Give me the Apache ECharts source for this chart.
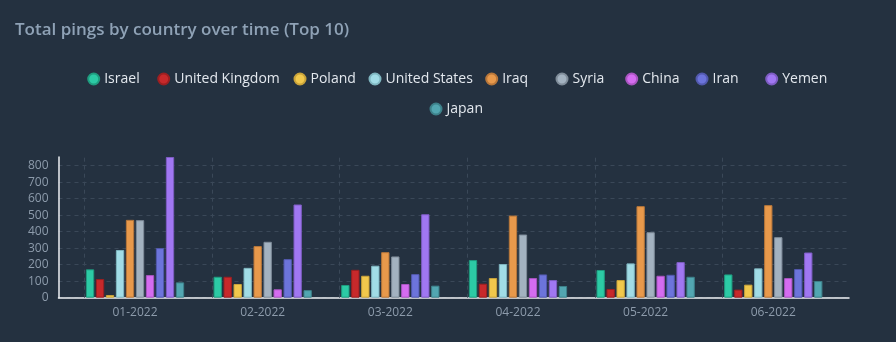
<!DOCTYPE html>
<html>
<head>
<meta charset="utf-8">
<script src="https://cdn.jsdelivr.net/npm/echarts@6/dist/echarts.min.js"></script>
<style>
html,body{margin:0;padding:0;background:#243140;}
#chart{width:896px;height:342px;}
</style>
</head>
<body>
<div id="chart"></div>
<script>
const categories = ['01-2022','02-2022','03-2022','04-2022','05-2022','06-2022'];
const countries = ['Israel','United Kingdom','Poland','United States','Iraq','Syria','China','Iran','Yemen','Japan'];
const israel        = [172, 127, 77, 228, 168, 141];
const unitedKingdom = [113, 127, 169, 85, 53, 49];
const poland        = [16, 83, 133, 119, 107, 79];
const unitedStates  = [289, 181, 194, 204, 208, 178];
const iraq          = [472, 313, 276, 498, 555, 561];
const syria         = [470, 339, 250, 383, 397, 367];
const china         = [137, 51, 83, 119, 133, 119];
const iran          = [301, 234, 143, 141, 139, 174];
const yemen         = [853, 565, 506, 107, 216, 274];
const japan         = [93, 46, 73, 71, 127, 101];
const seriesValues = [israel, unitedKingdom, poland, unitedStates, iraq, syria, china, iran, yemen, japan];

const colors  = ['#2ccaa5','#c7292b','#f1c84c','#a1dce6','#e8994b','#a3b2c0','#d46cf0','#6c74db','#a077f2','#52a6b1'];
const borders = ['#1f9c7f','#9b1f21','#c9a33a','#7fb6c0','#b8773a','#7f8c99','#a955c0','#5259ae','#7d5cc2','#3d818a'];
// legend item placement (left edge of marker, top of row)
const legendLefts = [87.2, 157.2, 293.5, 368.5, 485.2, 555.5, 625.2, 695.5, 765.2, 429.5];
const legendTops  = [72, 72, 72, 72, 72, 72, 72, 72, 72, 102];

const maxVal = Math.max(...seriesValues.flat());
const gridTop = 157, gridBottom = 44.3;
const splitColor = '#3a4858';

const chart = echarts.init(document.getElementById('chart'), null, {renderer: 'canvas'});

const barSeries = countries.map((name, i) => ({
  name: name,
  type: 'bar',
  xAxisIndex: 1,
  yAxisIndex: 1,
  data: seriesValues[i],
  barGap: '20%',
  barCategoryGap: '23%',
  itemStyle: {color: colors[i], borderColor: borders[i], borderWidth: 1},
  emphasis: {disabled: true}
}));

const splitColors = [];
for (let v = 0; v <= maxVal; v += 100) splitColors.push(splitColor);
splitColors.push('rgba(0,0,0,0)');

const legendText = {color: '#e3e8ee', fontSize: 14, fontFamily: 'Open Sans'};

const option = {
  backgroundColor: '#243140',
  animation: false,
  color: colors,
  title: {
    text: 'Total pings by country over time (Top 10)',
    left: 10,
    top: 17,
    textStyle: {color: '#8fa2b6', fontSize: 17, fontWeight: 600, fontFamily: 'Open Sans'}
  },
  legend: countries.map((n, i) => ({
    left: legendLefts[i],
    top: legendTops[i],
    padding: 0,
    icon: 'circle',
    itemWidth: 11,
    itemHeight: 11,
    itemGap: 10,
    textStyle: legendText,
    data: [n]
  })),
  grid: [
    {left: 58.5, right: 47, top: gridTop, bottom: gridBottom},
    {left: 71.2, right: 58.9, top: gridTop, bottom: gridBottom}
  ],
  xAxis: [
    {
      type: 'value',
      gridIndex: 0,
      min: -0.6016,
      max: 5.591,
      axisLine: {show: true, onZero: false, lineStyle: {color: '#eef1f4', width: 1.5}},
      axisTick: {show: false},
      axisLabel: {show: false},
      splitLine: {show: false}
    },
    {
      type: 'category',
      gridIndex: 1,
      data: categories,
      axisLine: {show: false},
      axisTick: {show: false},
      axisLabel: {color: '#8d9bab', fontSize: 12, fontFamily: 'Open Sans', margin: 9},
      splitLine: {show: false}
    }
  ],
  yAxis: [
    {
      type: 'value',
      gridIndex: 0,
      min: 0,
      max: maxVal,
      interval: 100,
      axisLine: {show: true, onZero: false, lineStyle: {color: '#eef1f4', width: 1.5}},
      axisTick: {show: false},
      axisLabel: {
        color: '#8d9bab', fontSize: 12, fontFamily: 'Open Sans', margin: 10,
        formatter: v => (v % 100 === 0 ? String(v) : '')
      },
      splitLine: {show: true, lineStyle: {color: splitColors, type: [4, 4], width: 1}}
    },
    {
      type: 'value',
      gridIndex: 1,
      min: 0,
      max: maxVal,
      show: false,
      splitLine: {show: false}
    }
  ],
  series: [
    {
      type: 'scatter',
      xAxisIndex: 0,
      yAxisIndex: 0,
      data: [],
      silent: true,
      markLine: {
        silent: true,
        symbol: ['none', 'none'],
        label: {show: false},
        lineStyle: {color: splitColor, type: [4, 4], width: 1},
        data: categories.map((c, i) => ({xAxis: i - 0.4}))
      }
    }
  ].concat(barSeries)
};
chart.setOption(option);
</script>
</body>
</html>
